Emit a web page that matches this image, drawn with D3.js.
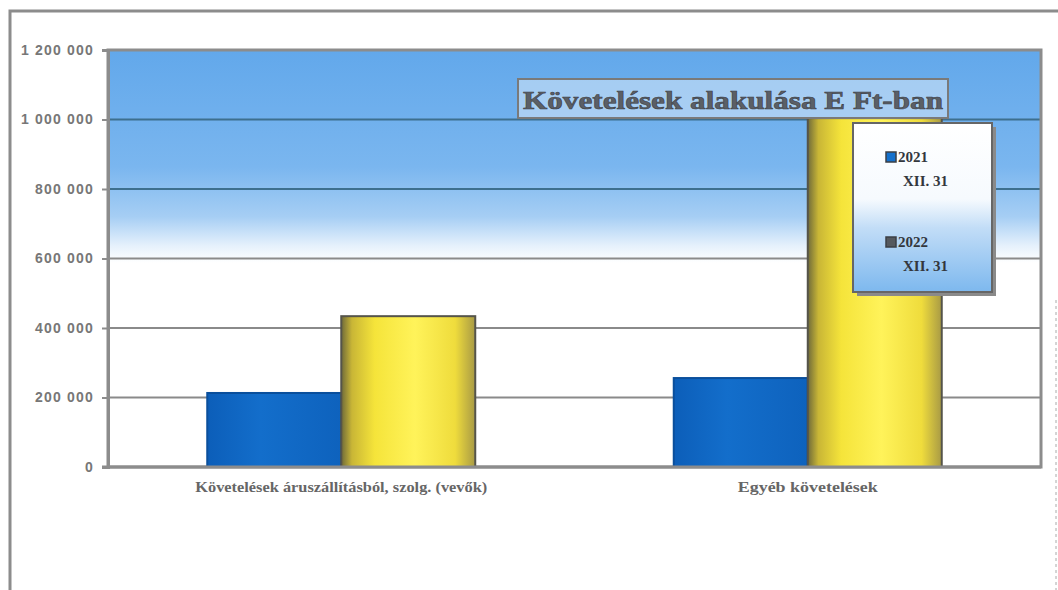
<!DOCTYPE html>
<html>
<head>
<meta charset="utf-8">
<script src="https://cdn.jsdelivr.net/npm/d3@7"></script>
<style>
  body { margin: 0; background: #fff; }
  svg { display: block; }
</style>
</head>
<body>
<div id="chart"></div>
<script>
// Data
const categories = ['Követelések áruszállításból, szolg. (vevők)', 'Egyéb követelések'];
const series = ['2021 XII. 31', '2022 XII. 31'];
const values2021 = [213000, 256000];
const values2022 = [434000, 1004000];
const yTicks = [0, 200000, 400000, 600000, 800000, 1000000, 1200000];
const legendLines = [['2021', 'XII. 31'], ['2022', 'XII. 31']];

const width = 1058;
const height = 590;
const plot = { left: 108, right: 1041, top: 50, bottom: 467 };

const svg = d3.select('#chart')
  .append('svg')
  .attr('width', width)
  .attr('height', height);

const defs = svg.append('defs');

// background of the plot: blue at top fading out
const bg = defs.append('linearGradient')
  .attr('id', 'bg-grad')
  .attr('x1', 0).attr('y1', 0).attr('x2', 0).attr('y2', 1);
bg.append('stop').attr('offset', '0%').attr('stop-color', '#62a8eb');
bg.append('stop').attr('offset', '28%').attr('stop-color', '#7ab6ef');
bg.append('stop').attr('offset', '40%').attr('stop-color', '#a6cef4');
bg.append('stop').attr('offset', '47%').attr('stop-color', '#e6f1fc');
bg.append('stop').attr('offset', '51%').attr('stop-color', '#ffffff');
bg.append('stop').attr('offset', '100%').attr('stop-color', '#ffffff');

// blue bar, slightly darker at the edges
const blueGrad = defs.append('linearGradient')
  .attr('id', 'blue-grad')
  .attr('x1', 0).attr('y1', 0).attr('x2', 1).attr('y2', 0);
blueGrad.append('stop').attr('offset', '0%').attr('stop-color', '#0c5eb9');
blueGrad.append('stop').attr('offset', '40%').attr('stop-color', '#136ecb');
blueGrad.append('stop').attr('offset', '100%').attr('stop-color', '#0e62bd');

// yellow bar, cylinder shading
const yellowGrad = defs.append('linearGradient')
  .attr('id', 'yellow-grad')
  .attr('x1', 0).attr('y1', 0).attr('x2', 1).attr('y2', 0);
yellowGrad.append('stop').attr('offset', '0%').attr('stop-color', '#6f6a3a');
yellowGrad.append('stop').attr('offset', '8%').attr('stop-color', '#c9b636');
yellowGrad.append('stop').attr('offset', '25%').attr('stop-color', '#f5e43a');
yellowGrad.append('stop').attr('offset', '55%').attr('stop-color', '#fff35a');
yellowGrad.append('stop').attr('offset', '85%').attr('stop-color', '#efdc3c');
yellowGrad.append('stop').attr('offset', '100%').attr('stop-color', '#a89a45');

// legend fill
const legGrad = defs.append('linearGradient')
  .attr('id', 'leg-grad')
  .attr('x1', 0).attr('y1', 0).attr('x2', 0).attr('y2', 1);
legGrad.append('stop').attr('offset', '0%').attr('stop-color', '#ffffff');
legGrad.append('stop').attr('offset', '45%').attr('stop-color', '#f6fafe');
legGrad.append('stop').attr('offset', '62%').attr('stop-color', '#c2ddf7');
legGrad.append('stop').attr('offset', '100%').attr('stop-color', '#7db8ee');

// outer frame (left and top edges visible in the scan)
svg.append('path')
  .attr('d', `M10,${height} L10,11 L${width},11`)
  .attr('fill', 'none')
  .attr('stroke', '#8c8c8c')
  .attr('stroke-width', 3);
svg.append('line')
  .attr('x1', 1056).attr('x2', 1056)
  .attr('y1', 300).attr('y2', height)
  .attr('stroke', '#aaa')
  .attr('stroke-width', 1)
  .attr('stroke-dasharray', '3,3');

// Scales
const y = d3.scaleLinear()
  .domain([0, 1200000])
  .range([plot.bottom, plot.top]);

const x0 = d3.scaleBand()
  .domain(categories)
  .range([plot.left, plot.right]);

const groupWidth = 268;
const x1 = d3.scaleBand()
  .domain(series)
  .range([0, groupWidth]);

// plot background
svg.append('rect')
  .attr('x', plot.left)
  .attr('y', plot.top)
  .attr('width', plot.right - plot.left)
  .attr('height', plot.bottom - plot.top)
  .attr('fill', 'url(#bg-grad)');

// gridlines
svg.append('g')
  .selectAll('line')
  .data(yTicks.filter(d => d > 0))
  .join('line')
  .attr('x1', plot.left)
  .attr('x2', plot.right)
  .attr('y1', d => y(d))
  .attr('y2', d => y(d))
  .attr('stroke', d => d >= 800000 ? '#3d6f8e' : '#8a8a8a')
  .attr('stroke-width', 2);

// plot frame
svg.append('rect')
  .attr('x', plot.left)
  .attr('y', plot.top)
  .attr('width', plot.right - plot.left)
  .attr('height', plot.bottom - plot.top)
  .attr('fill', 'none')
  .attr('stroke', '#8c8c8c')
  .attr('stroke-width', 3);

// y axis
const fmt = v => d3.format(',')(v).replace(/,/g, ' ');
const yAxis = svg.append('g')
  .attr('transform', `translate(${plot.left},0)`)
  .call(d3.axisLeft(y).tickValues(yTicks).tickFormat(fmt).tickSize(6).tickPadding(8));
yAxis.select('.domain').attr('stroke', '#8c8c8c').attr('stroke-width', 3);
yAxis.selectAll('.tick line').attr('stroke', '#8c8c8c').attr('stroke-width', 2);
yAxis.selectAll('.tick text')
  .attr('fill', '#777')
  .attr('font-family', 'Liberation Sans, Arial, sans-serif')
  .attr('font-weight', 'bold')
  .attr('font-size', 14)
  .attr('letter-spacing', 1.2);

// bars
const rows = categories.map((c, i) => ({ cat: c, vals: [values2021[i], values2022[i]] }));
const groups = svg.append('g')
  .selectAll('g')
  .data(rows)
  .join('g')
  .attr('transform', d => `translate(${x0(d.cat) + (x0.bandwidth() - groupWidth) / 2},0)`);

groups.selectAll('rect')
  .data(d => d.vals.map((v, j) => ({ key: series[j], v, j })))
  .join('rect')
  .attr('x', d => x1(d.key))
  .attr('y', d => y(d.v))
  .attr('width', x1.bandwidth())
  .attr('height', d => y(0) - y(d.v))
  .attr('fill', d => d.j === 0 ? 'url(#blue-grad)' : 'url(#yellow-grad)')
  .attr('stroke', d => d.j === 0 ? '#0a4f9c' : '#55544a')
  .attr('stroke-width', 2);

// bottom axis line over bars
svg.append('line')
  .attr('x1', plot.left - 6)
  .attr('x2', plot.right)
  .attr('y1', plot.bottom)
  .attr('y2', plot.bottom)
  .attr('stroke', '#8c8c8c')
  .attr('stroke-width', 3);

// category labels
const labelWidths = [292, 140];
svg.append('g')
  .selectAll('text')
  .data(categories)
  .join('text')
  .attr('x', d => x0(d) + x0.bandwidth() / 2)
  .attr('y', 492)
  .attr('text-anchor', 'middle')
  .attr('fill', '#666')
  .attr('font-family', 'Liberation Serif, Times New Roman, serif')
  .attr('font-weight', 'bold')
  .attr('font-size', 15)
  .attr('textLength', (d, i) => labelWidths[i])
  .attr('lengthAdjust', 'spacingAndGlyphs')
  .text(d => d);

// title box
const title = svg.append('g');
title.append('rect')
  .attr('x', 518).attr('y', 79)
  .attr('width', 430).attr('height', 39)
  .attr('fill', '#cfe3f6')
  .attr('fill-opacity', 0.6)
  .attr('stroke', '#7a7a7a')
  .attr('stroke-width', 2);
title.append('text')
  .attr('x', 733)
  .attr('y', 109)
  .attr('text-anchor', 'middle')
  .attr('fill', '#5b5f66')
  .attr('stroke', '#3d4148')
  .attr('stroke-width', 0.6)
  .attr('font-family', 'Liberation Serif, Times New Roman, serif')
  .attr('font-weight', 'bold')
  .attr('font-size', 26)
  .attr('textLength', 420)
  .attr('lengthAdjust', 'spacingAndGlyphs')
  .text('Követelések alakulása E Ft-ban');

// legend
const legend = svg.append('g');
legend.append('rect')
  .attr('x', 857).attr('y', 127)
  .attr('width', 139).attr('height', 169)
  .attr('fill', '#8a8a8a');
legend.append('rect')
  .attr('x', 853).attr('y', 123)
  .attr('width', 139).attr('height', 169)
  .attr('fill', 'url(#leg-grad)')
  .attr('stroke', '#666')
  .attr('stroke-width', 2);

const legendColors = ['#1470cc', '#55595e'];
const items = legend.selectAll('g.item')
  .data(legendLines)
  .join('g')
  .attr('class', 'item')
  .attr('transform', (d, i) => `translate(886,${162 + i * 85})`);
items.append('rect')
  .attr('x', 0).attr('y', -10)
  .attr('width', 10).attr('height', 10)
  .attr('fill', (d, i) => legendColors[i])
  .attr('stroke', '#3b3f46')
  .attr('stroke-width', 1.5);
items.append('text')
  .attr('x', 12)
  .attr('y', 0)
  .attr('fill', '#33373d')
  .attr('font-family', 'Liberation Serif, Times New Roman, serif')
  .attr('font-weight', 'bold')
  .attr('font-size', 15)
  .text(d => d[0]);
items.append('text')
  .attr('x', 17)
  .attr('y', 24)
  .attr('fill', '#33373d')
  .attr('font-family', 'Liberation Serif, Times New Roman, serif')
  .attr('font-weight', 'bold')
  .attr('font-size', 15)
  .text(d => d[1]);
</script>
</body>
</html>
